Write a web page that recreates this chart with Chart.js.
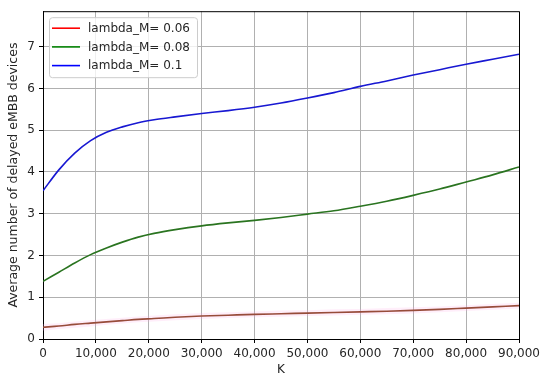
<!DOCTYPE html>
<html>
<head>
<meta charset="utf-8">
<script src="https://cdn.jsdelivr.net/npm/chart.js@4.4.0/dist/chart.umd.min.js"></script>
<style>
  html, body { margin: 0; padding: 0; background: #fff; }
  #wrap { width: 550px; height: 383px; }
</style>
</head>
<body>
<div id="wrap"><canvas id="chart" width="550" height="383"></canvas></div>
<script>
// K values (x axis) shared by every series
const kValues = [0, 3000, 6000, 9000, 12000, 15000, 18000, 21000, 25000, 30000, 35000,
  40000, 45000, 50000, 55000, 60000, 65000, 70000, 75000, 80000, 85000, 90000];

const seriesLabels = ['lambda_M= 0.06', 'lambda_M= 0.08', 'lambda_M= 0.1'];

const delayed006 = [0.28, 0.31, 0.35, 0.38, 0.41, 0.44, 0.47, 0.49, 0.52, 0.55, 0.57,
  0.59, 0.605, 0.62, 0.635, 0.65, 0.665, 0.685, 0.71, 0.74, 0.77, 0.80];
const delayed008 = [1.38, 1.60, 1.82, 2.02, 2.18, 2.32, 2.44, 2.53, 2.62, 2.71, 2.78,
  2.84, 2.91, 2.99, 3.07, 3.18, 3.30, 3.44, 3.59, 3.76, 3.93, 4.12];
const delayed01 = [3.55, 4.05, 4.45, 4.75, 4.95, 5.08, 5.18, 5.25, 5.32, 5.40, 5.47,
  5.55, 5.65, 5.77, 5.90, 6.05, 6.18, 6.32, 6.45, 6.58, 6.70, 6.82];

// faint band around the 0.06 curve
const band006Low = [0.20, 0.24, 0.27, 0.30, 0.34, 0.37, 0.40, 0.42, 0.45, 0.48, 0.50,
  0.52, 0.53, 0.55, 0.56, 0.58, 0.59, 0.61, 0.64, 0.67, 0.70, 0.73];
const band006High = [0.36, 0.38, 0.42, 0.45, 0.48, 0.51, 0.54, 0.56, 0.59, 0.62, 0.64,
  0.66, 0.68, 0.69, 0.71, 0.72, 0.74, 0.76, 0.78, 0.81, 0.84, 0.87];

const yTicks = [0, 1, 2, 3, 4, 5, 6, 7];

const lineColors = ['#7e3510', '#2a7420', '#1818d2'];
const legendColors = ['#ff0000', '#008000', '#0000ff'];

function pts(ys) {
  return kValues.map((k, i) => ({ x: k, y: ys[i] }));
}

// matplotlib-style legend drawn inside the plot, plus the top/right frame
const insideLegend = {
  id: 'insideLegend',
  afterDraw(chart) {
    const ctx = chart.ctx;
    const a = chart.chartArea;
    ctx.save();
    ctx.strokeStyle = '#000';
    ctx.lineWidth = 1;
    ctx.beginPath();
    ctx.moveTo(a.left, a.top + 0.5);
    ctx.lineTo(a.right + 0.5, a.top + 0.5);
    ctx.lineTo(a.right + 0.5, a.bottom);
    ctx.stroke();

    const x = a.left + 6, y = a.top + 6, w = 148, h = 60;
    ctx.fillStyle = 'rgba(255,255,255,0.8)';
    ctx.strokeStyle = '#cccccc';
    ctx.beginPath();
    ctx.roundRect(x + 0.5, y + 0.5, w, h, 3);
    ctx.fill();
    ctx.stroke();

    ctx.font = '12px "DejaVu Sans"';
    ctx.textBaseline = 'middle';
    ctx.textAlign = 'left';
    seriesLabels.forEach((lbl, i) => {
      const cy = y + 11 + i * 18.7;
      ctx.strokeStyle = legendColors[i];
      ctx.lineWidth = 1.6;
      ctx.beginPath();
      ctx.moveTo(x + 3, cy);
      ctx.lineTo(x + 31, cy);
      ctx.stroke();
      ctx.fillStyle = '#262626';
      ctx.fillText(lbl, x + 39, cy + 0.5);
    });
    ctx.restore();
  }
};

const lineStyle = { borderWidth: 1.6, pointRadius: 0, cubicInterpolationMode: 'monotone', fill: false };

new Chart(document.getElementById('chart'), {
  type: 'line',
  data: {
    datasets: [
      { data: pts(band006Low), borderWidth: 0, pointRadius: 0, fill: false, borderColor: 'rgba(0,0,0,0)' },
      { data: pts(band006High), borderWidth: 0, pointRadius: 0, fill: '-1',
        borderColor: 'rgba(0,0,0,0)', backgroundColor: 'rgba(255,170,230,0.2)' },
      { label: seriesLabels[0], data: pts(delayed006), borderColor: lineColors[0], ...lineStyle },
      { label: seriesLabels[1], data: pts(delayed008), borderColor: lineColors[1], ...lineStyle },
      { label: seriesLabels[2], data: pts(delayed01), borderColor: lineColors[2], ...lineStyle }
    ]
  },
  options: {
    responsive: false,
    animation: false,
    layout: { padding: { left: 0, top: 7, right: 31, bottom: 0 } },
    plugins: { legend: { display: false }, tooltip: { enabled: false } },
    scales: {
      x: {
        type: 'linear',
        min: 0,
        max: 90000,
        afterFit(s) { s.height = 44; },
        ticks: {
          stepSize: 10000,
          padding: 4,
          color: '#262626',
          font: { family: 'DejaVu Sans', size: 12 },
          maxRotation: 0,
          callback: v => v.toLocaleString('en-US')
        },
        grid: { color: '#b0b0b0', lineWidth: 1, tickColor: '#000', tickLength: 4 },
        border: { display: true, color: '#000', width: 1 },
        title: { display: true, text: 'K', color: '#262626', padding: { top: 0, bottom: 6 },
          font: { family: 'DejaVu Sans', size: 12 } }
      },
      y: {
        min: 0,
        max: 7.85,
        afterFit(s) { s.width = 43; },
        afterBuildTicks(s) { s.ticks = yTicks.map(v => ({ value: v })); },
        ticks: {
          padding: 4,
          color: '#262626',
          font: { family: 'DejaVu Sans', size: 12 }
        },
        grid: { color: '#b0b0b0', lineWidth: 1, tickColor: '#000', tickLength: 4 },
        border: { display: true, color: '#000', width: 1 },
        title: { display: true, text: 'Average number of delayed eMBB devices', color: '#262626',
          padding: { top: 6.5, bottom: 0 }, font: { family: 'DejaVu Sans', size: 12.5 } }
      }
    }
  },
  plugins: [insideLegend]
});
</script>
</body>
</html>
